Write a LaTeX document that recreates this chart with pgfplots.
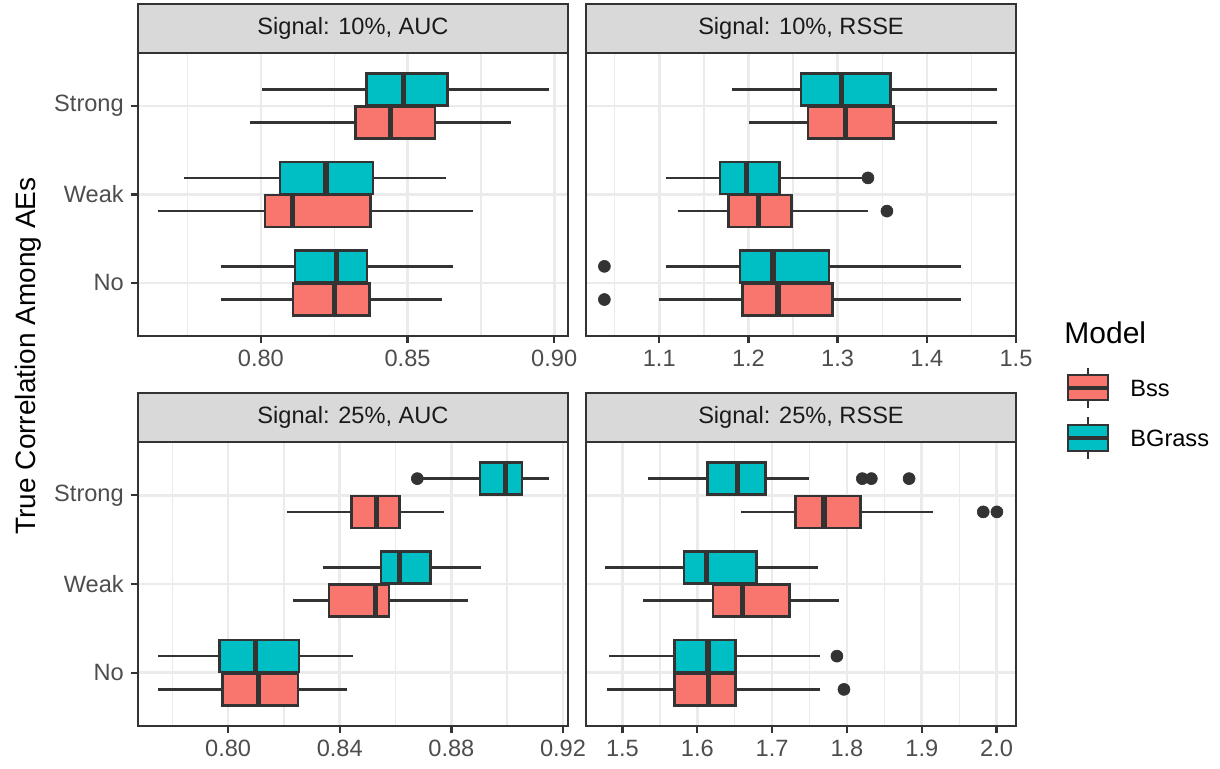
\documentclass[border=0pt]{standalone}
\usepackage{fontspec}
\setmainfont{Liberation Sans}
\usepackage{pgfplots}
\pgfplotsset{compat=1.18}
\usepgfplotslibrary{statistics}

\definecolor{bss}{HTML}{F8766D}
\definecolor{bgr}{HTML}{00BFC4}
\definecolor{g10}{HTML}{1A1A1A}
\definecolor{g20}{HTML}{333333}
\definecolor{g30}{HTML}{4D4D4D}
\definecolor{g85}{HTML}{D9D9D9}
\definecolor{g92}{HTML}{EBEBEB}

\newcommand{\lab}{\fontsize{11.8}{14}\selectfont}

% box: colour, position, lw, lq, median, uq, uw
\newcommand{\bp}[7]{\addplot[boxplot prepared={draw position=#2, lower whisker=#3,
  lower quartile=#4, median=#5, upper quartile=#6, upper whisker=#7},
  fill=#1, draw=g20, line width=1.3pt] coordinates {};}
\newcommand{\strip}[1]{%
  \draw[fill=g85, draw=g20, line width=1.2pt] (rel axis cs:0,1) rectangle ([yshift=24.5pt]rel axis cs:1,1);
  \node[font=\lab, text=g10] at ([yshift=12.25pt]rel axis cs:0.5,1) {#1};}

\pgfplotsset{
  facet/.style={
    scale only axis, anchor=south west, clip=false,
    width=215pt,
    ymin=0.4, ymax=3.6, ytick={1,2,3},
    grid=both,
    major grid style={g92, line width=1.3pt},
    minor grid style={g92, line width=0.7pt},
    tick align=outside, xtick pos=bottom, ytick pos=left,
    major tick length=3.6pt, minor tick length=0pt,
    tick style={g20, line width=1.2pt},
    axis line style={g20, line width=1.2pt},
    ticklabel style={font=\lab, text=g30},
    boxplot/box extend=0.36,
    boxplot/whisker extend=0,
    boxplot/every median/.style={line width=2.6pt},
  },
  leftcol/.style={yticklabels={No,Weak,Strong}},
  rightcol/.style={yticklabels={}, ytick style={draw=none}},
  outl/.style={only marks, mark=*, mark size=3pt, color=g20,
    mark options={draw=g20, fill=g20, line width=0.3pt}},
}

\begin{document}
\begin{tikzpicture}
\useasboundingbox (0,0) rectangle (610pt,384pt);

% Signal 10%, AUC
\begin{axis}[facet, leftcol, at={(69pt,216pt)}, height=141.5pt,
  xmin=0.7581, xmax=0.9047,
  xtick={0.80,0.85,0.90}, xticklabels={0.80,0.85,0.90},
  minor xtick={0.775,0.825,0.875}]
\bp{bgr}{3.1875}{0.8005}{0.8360}{0.8487}{0.8636}{0.8981}
\bp{bss}{2.8125}{0.7964}{0.8323}{0.8443}{0.8593}{0.8852}
\bp{bgr}{2.1875}{0.7739}{0.8065}{0.8222}{0.8382}{0.8630}
\bp{bss}{1.8125}{0.7650}{0.8014}{0.8109}{0.8374}{0.8722}
\bp{bgr}{1.1875}{0.7863}{0.8116}{0.8258}{0.8362}{0.8654}
\bp{bss}{0.8125}{0.7863}{0.8109}{0.8251}{0.8370}{0.8618}
\strip{Signal: 10\%, AUC}
\end{axis}

% Signal 10%, RSSE
\begin{axis}[facet, rightcol, at={(293pt,216pt)}, height=141.5pt,
  xmin=1.0179, xmax=1.5,
  xtick={1.1,1.2,1.3,1.4,1.5}, xticklabels={1.1,1.2,1.3,1.4,1.5},
  minor xtick={1.05,1.15,1.25,1.35,1.45}]
\bp{bgr}{3.1875}{1.1817}{1.2590}{1.3043}{1.3590}{1.4790}
\bp{bss}{2.8125}{1.2009}{1.2669}{1.3085}{1.3628}{1.4790}
\bp{bgr}{2.1875}{1.1075}{1.1679}{1.1975}{1.2350}{1.3320}
\bp{bss}{1.8125}{1.1206}{1.1776}{1.2117}{1.2485}{1.3336}
\bp{bgr}{1.1875}{1.1075}{1.1904}{1.2275}{1.2905}{1.4378}
\bp{bss}{0.8125}{1.0993}{1.1934}{1.2331}{1.2942}{1.4378}
\addplot[outl] coordinates {(1.3340,2.1875) (1.3553,1.8125) (1.0385,1.1875) (1.0385,0.8125)};
\strip{Signal: 10\%, RSSE}
\end{axis}

% Signal 25%, AUC
\begin{axis}[facet, leftcol, at={(69pt,21pt)}, height=142pt,
  xmin=0.7677, xmax=0.9218,
  xtick={0.80,0.84,0.88,0.92}, xticklabels={0.80,0.84,0.88,0.92},
  minor xtick={0.78,0.82,0.86,0.90}]
\bp{bgr}{3.1875}{0.8685}{0.8902}{0.8993}{0.9053}{0.9151}
\bp{bss}{2.8125}{0.8212}{0.8443}{0.8532}{0.8614}{0.8775}
\bp{bgr}{2.1875}{0.8340}{0.8548}{0.8613}{0.8725}{0.8905}
\bp{bss}{1.8125}{0.8232}{0.8361}{0.8529}{0.8577}{0.8859}
\bp{bgr}{1.1875}{0.7749}{0.7970}{0.8099}{0.8254}{0.8448}
\bp{bss}{0.8125}{0.7749}{0.7980}{0.8108}{0.8251}{0.8426}
\addplot[outl] coordinates {(0.8678,3.1875)};
\strip{Signal: 25\%, AUC}
\end{axis}

% Signal 25%, RSSE
\begin{axis}[facet, rightcol, at={(293pt,21pt)}, height=142pt,
  xmin=1.4513, xmax=2.0259,
  xtick={1.5,1.6,1.7,1.8,1.9,2.0}, xticklabels={1.5,1.6,1.7,1.8,1.9,2.0},
  minor xtick={1.55,1.65,1.75,1.85,1.95}]
\bp{bgr}{3.1875}{1.5344}{1.6138}{1.6540}{1.6915}{1.7496}
\bp{bss}{2.8125}{1.6589}{1.7313}{1.7692}{1.8183}{1.9156}
\bp{bgr}{2.1875}{1.4768}{1.5821}{1.6120}{1.6795}{1.7616}
\bp{bss}{1.8125}{1.5281}{1.6210}{1.6607}{1.7232}{1.7893}
\bp{bgr}{1.1875}{1.4817}{1.5696}{1.6143}{1.6513}{1.7638}
\bp{bss}{0.8125}{1.4799}{1.5696}{1.6152}{1.6509}{1.7638}
\addplot[outl] coordinates {(1.8205,3.1875) (1.8326,3.1875) (1.8830,3.1875)
  (1.9821,2.8125) (2.0004,2.8125) (1.7866,1.1875) (1.7960,0.8125)};
\strip{Signal: 25\%, RSSE}
\end{axis}

% y axis title
\node[rotate=90, font=\fontsize{14}{16}\selectfont] at (14pt,206pt) {True Correlation Among AEs};

% legend
\node[anchor=west, font=\fontsize{15}{18}\selectfont, inner sep=0pt] at (532pt,217.5pt) {Model};
\draw[g20, line width=1.3pt] (544pt,200pt) -- (544pt,180pt);
\draw[g20, line width=1.3pt, fill=bss] (534pt,184pt) rectangle (554pt,196.5pt);
\draw[g20, line width=1.8pt] (534pt,190pt) -- (554pt,190pt);
\draw[g20, line width=1.3pt] (544pt,175.5pt) -- (544pt,154.5pt);
\draw[g20, line width=1.3pt, fill=bgr] (534pt,158.5pt) rectangle (554pt,171.5pt);
\draw[g20, line width=1.8pt] (534pt,165pt) -- (554pt,165pt);
\node[anchor=west, font=\lab, inner sep=0pt] at (565pt,190pt) {Bss};
\node[anchor=west, font=\lab, inner sep=0pt] at (565pt,165pt) {BGrass};
\end{tikzpicture}
\end{document}
